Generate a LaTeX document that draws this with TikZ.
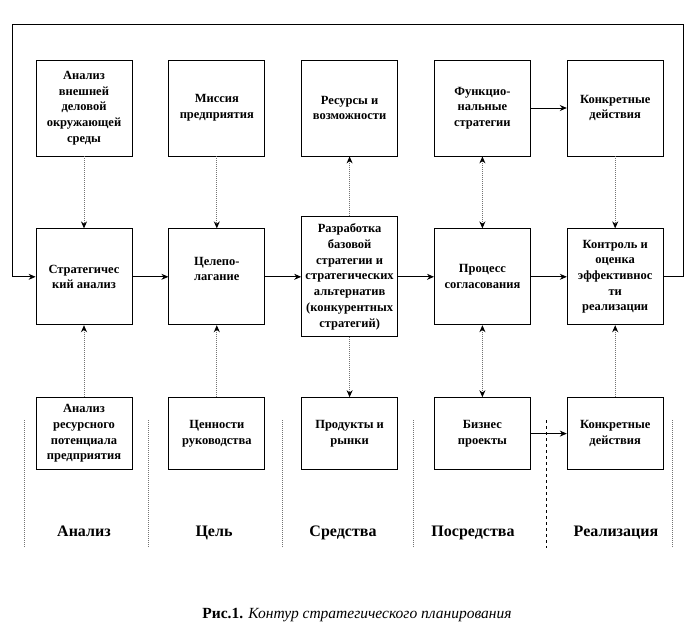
\documentclass[tikz,border=0pt]{standalone}
\usepackage{fontspec}
\setmainfont{Liberation Serif}
\usepackage{tikz}
\usetikzlibrary{positioning,arrows.meta}

\begin{document}
\begin{tikzpicture}[x=1pt, y=-1pt, node distance=36pt, >={Stealth[length=7pt,width=6pt,color=black]},
  box/.style={draw, rectangle, line width=0.8pt, minimum width=96pt, minimum height=96pt, inner sep=0pt, align=center, font=\fontsize{12.5}{15.7}\selectfont\bfseries},
  low/.style={box, minimum height=72pt},
  link/.style={densely dotted, line width=1pt, draw=black!55},
  flow/.style={->, line width=0.8pt},
  sep/.style={densely dotted, line width=1pt, draw=black!55},
  colname/.style={anchor=base, inner sep=0pt, font=\fontsize{16}{18}\selectfont\bfseries}]
  \useasboundingbox (0,0) rectangle (696,638);

  % top row
  \node[box] (ext) at (84,108) {Анализ\\внешней\\деловой\\окружающей\\среды};
  \node[box] (mis) [right=of ext] {Миссия\\предприятия};
  \node[box] (res) [right=of mis] {Ресурсы и\\возможности};
  \node[box] (fun) [right=of res] {Функцио-\\нальные\\стратегии};
  \node[box] (act) [right=of fun] {Конкретные\\действия};

  % middle row
  \node[box] (strat) [below=72pt of ext] {Стратегичес\\кий анализ};
  \node[box] (goal) [below=72pt of mis] {Целепо-\\лагание\\\mbox{}};
  \node[box, minimum height=120pt] (dev) [below=60pt of res] {Разработка\\базовой\\стратегии и\\стратегических\\альтернатив\\(конкурентных\\стратегий)};
  \node[box] (coord) [below=72pt of fun] {Процесс\\согласования};
  \node[box] (ctrl) [below=72pt of act] {Контроль и\\оценка\\эффективнос\\ти\\реализации};

  % bottom row
  \node[low] (pot) [below=72pt of strat] {Анализ\\ресурсного\\потенциала\\предприятия};
  \node[low] (val) [below=72pt of goal] {Ценности\\руководства};
  \node[low] (prod) [below=60pt of dev] {Продукты и\\рынки};
  \node[low] (biz) [below=72pt of coord] {Бизнес\\проекты};
  \node[low] (act2) [below=72pt of ctrl] {Конкретные\\действия};

  % dotted links
  \draw[link, ->] (ext) -- (strat);
  \draw[link, ->] (mis) -- (goal);
  \draw[link, ->] (dev) -- (res);
  \draw[link, <->] (fun) -- (coord);
  \draw[link, ->] (act) -- (ctrl);
  \draw[link, ->] (pot) -- (strat);
  \draw[link, ->] (val) -- (goal);
  \draw[link, ->] (dev) -- (prod);
  \draw[link, <->] (coord) -- (biz);
  \draw[link, ->] (act2) -- (ctrl);

  % solid flow
  \draw[flow] (strat) -- (goal);
  \draw[flow] (goal) -- (dev);
  \draw[flow] (dev) -- (coord);
  \draw[flow] (coord) -- (ctrl);
  \draw[flow] (fun) -- (act);
  \draw[flow] (biz) -- (act2);

  % feedback loop
  \coordinate (loopR) at (683,24);
  \coordinate (loopL) at (12,24);
  \draw[flow] (ctrl.east) -| (loopR) -- (loopL) |- (strat.west);

  % column separators
  \foreach \x in {24,148,282,413,672}
    \draw[sep] (\x,420) -- (\x,548);
  \draw[dashed, line width=0.8pt] (546,420) -- (546,548);

  \node[colname] (lan) at (84,536) {Анализ};
  \node[colname] (lgo) at (214,536) {Цель};
  \node[colname] (lme) at (343,536) {Средства};
  \node[colname] (lmi) at (473,536) {Посредства};
  \node[colname] (lre) at (616,536) {Реализация};

  \node[anchor=base, inner sep=0pt, font=\fontsize{15.5}{18}\selectfont] (cap) at (357,618) {\textbf{Рис.1.} \textit{Контур стратегического планирования}};
\end{tikzpicture}
\end{document}
